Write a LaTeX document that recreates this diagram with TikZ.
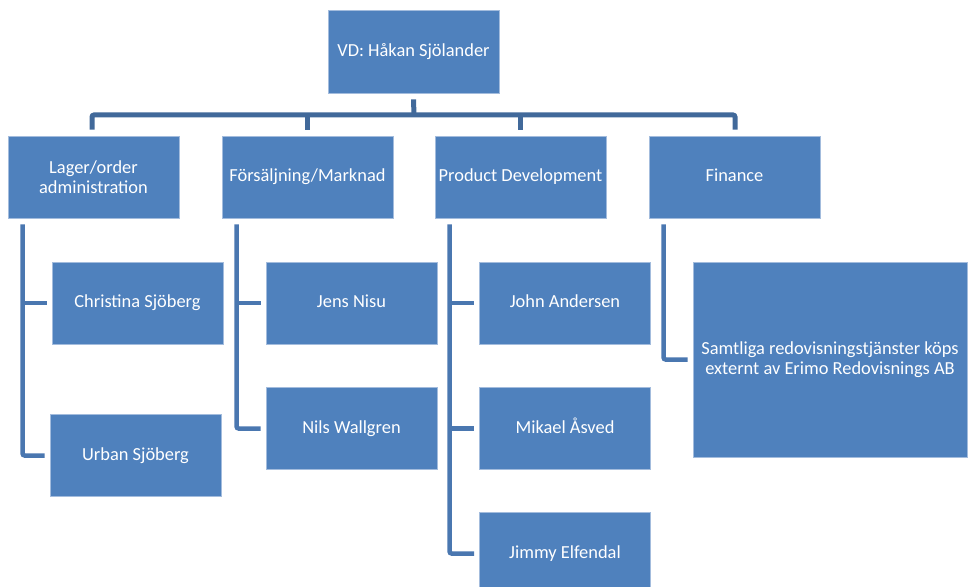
\documentclass[tikz,border=0pt]{standalone}
\usepackage{fontspec}
\setmainfont{Carlito}
\usetikzlibrary{positioning}
\definecolor{boxblue}{HTML}{4F81BD}
\definecolor{boxedge}{HTML}{A3BCDD}
\definecolor{bustop}{HTML}{41699A}
\definecolor{bussub}{HTML}{4A77B0}
\tikzset{
  orgbox/.style={draw=boxedge, line width=0.8bp, fill=boxblue, text=white,
    minimum width=171bp, minimum height=82bp, inner sep=1bp, align=center,
    text height=0.96em, text depth=0pt,
    font=\fontsize{18.4bp}{20.5bp}\selectfont},
  twolines/.style={text height=, text depth=},
  topline/.style={draw=bustop, line width=5bp, rounded corners=2bp},
  subline/.style={draw=bussub, line width=4.5bp, rounded corners=2bp},
}
% side branch from a department box to one of its staff boxes
\newcommand{\subbranch}[2]{\draw[subline] ([xshift=15bp]#1.south west |- #2.west) -- ([xshift=-5bp]#2.west);}
% last branch: vertical down from the department, then into the box
\newcommand{\subend}[2]{\draw[subline] ([xshift=15bp,yshift=-6bp]#1.south west) |- ([xshift=-5bp]#2.west);}

\begin{document}
\begin{tikzpicture}[x=1bp,y=-1bp]
  \useasboundingbox (0,0) rectangle (968,587);
  \clip (0,0) rectangle (968,587);

  % top
  \node[orgbox, minimum height=83bp] (vd) at (413.5,51.5) {VD: Håkan Sjölander};

  % departments
  \node[orgbox, twolines] (lager) at (93.5,177) {Lager/order\\administration};
  \node[orgbox] (fors)  at (307.5,177) {Försäljning/Marknad};
  \node[orgbox] (prod)  at (520.5,177) {Product Development};
  \node[orgbox] (fin)   at (734.5,177) {Finance};

  % staff, lager
  \node[orgbox] (christina) at (137.5,303) {Christina Sjöberg};
  \node[orgbox] (urban)     at (135.5,455.5) {Urban Sjöberg};
  % staff, forsaljning
  \node[orgbox] (jens) at (351.5,303) {Jens Nisu};
  \node[orgbox] (nils) at (351.5,428.5) {Nils Wallgren};
  % staff, product development
  \node[orgbox] (john)   at (565,303) {John Andersen};
  \node[orgbox] (mikael) at (565,428.5) {Mikael Åsved};
  \node[orgbox] (jimmy)  at (565,553.5) {Jimmy Elfendal};
  % finance
  \node[orgbox, twolines, minimum width=274bp, minimum height=195bp] (redov) at (830,359.5)
    {Samtliga redovisningstjänster köps\\externt av Erimo Redovisnings AB};

  % bus
  \coordinate (bus) at (414,115);
  \draw[topline] ([yshift=-6bp]vd.south) -- (bus);
  \draw[topline] ([xshift=-1.5bp,yshift=6bp]lager.north) |- (bus) -| ([xshift=0.5bp,yshift=6bp]fin.north);
  \draw[topline] ([yshift=6bp]fors.north) -- (fors.north |- bus);
  \draw[topline] ([yshift=6bp]prod.north) -- (prod.north |- bus);

  % branches
  \subbranch{lager}{christina}
  \subend{lager}{urban}
  \subbranch{fors}{jens}
  \subend{fors}{nils}
  \subbranch{prod}{john}
  \subbranch{prod}{mikael}
  \subend{prod}{jimmy}
  \subend{fin}{redov}
\end{tikzpicture}
\end{document}
